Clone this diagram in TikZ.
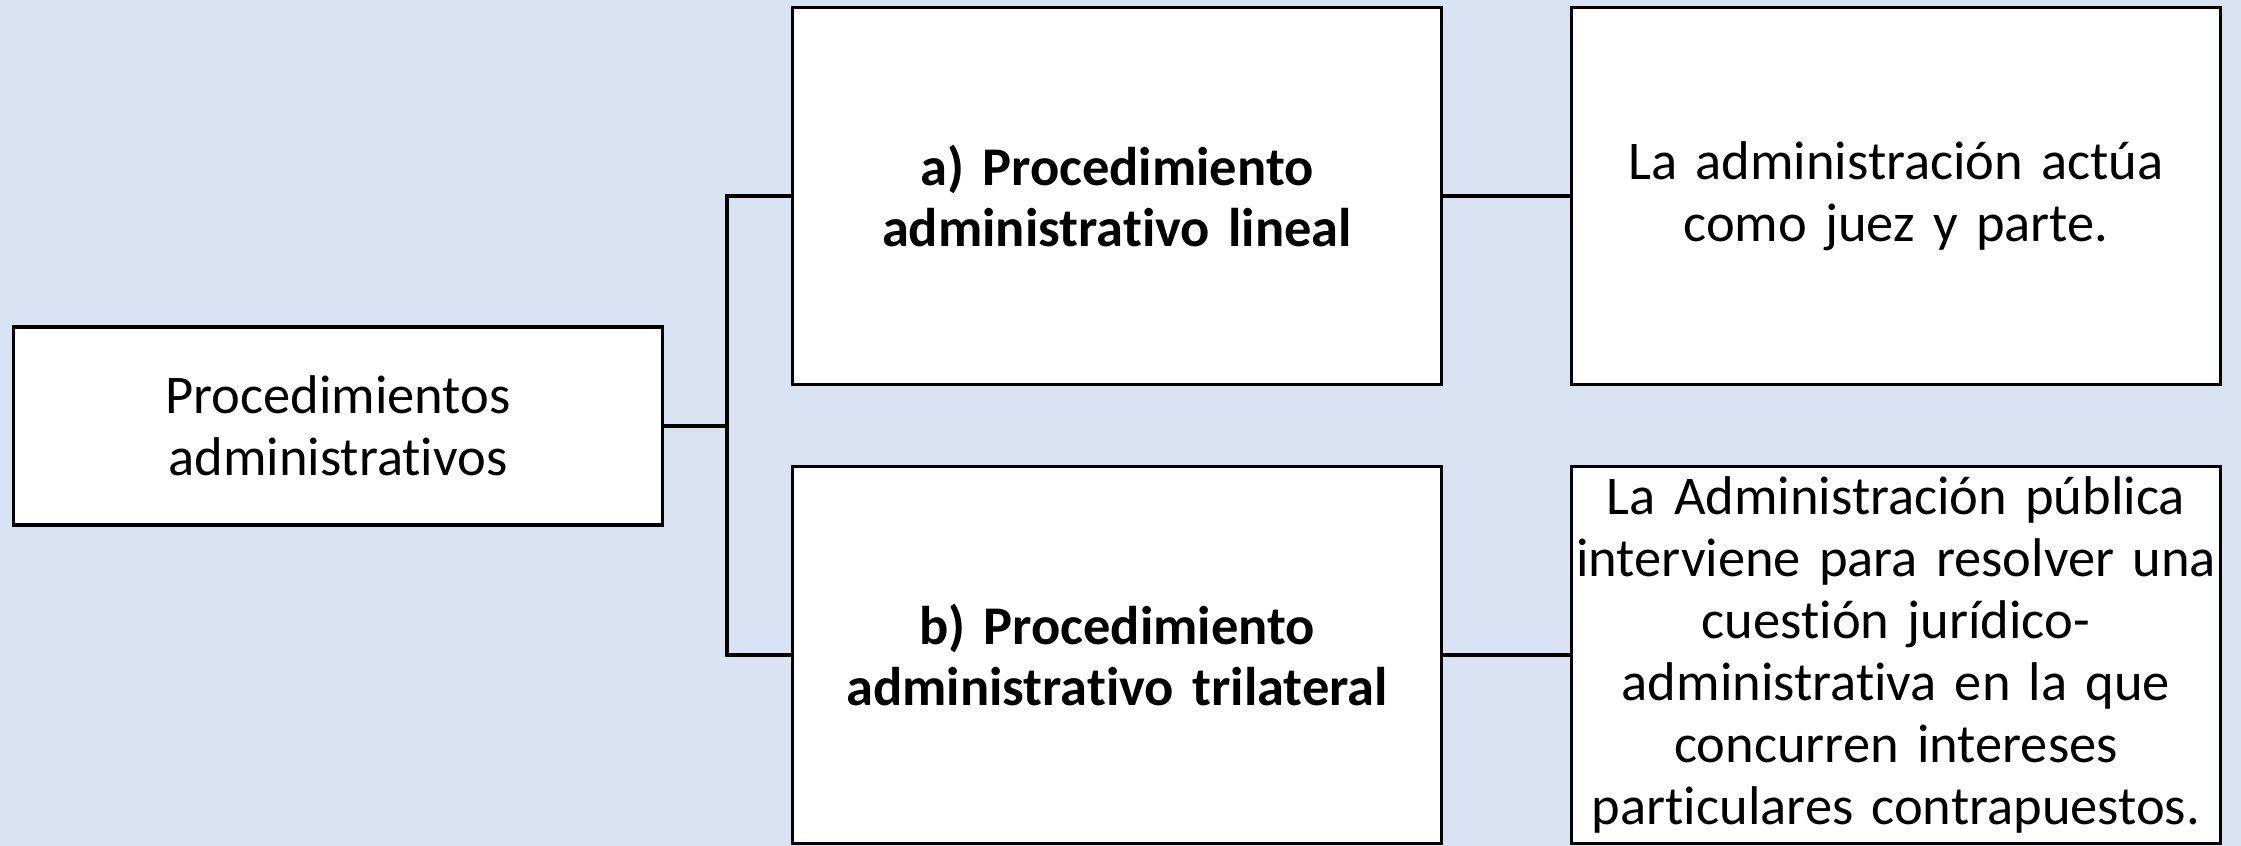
\documentclass[tikz,border=0pt]{standalone}
\usepackage{fontspec}
\setmainfont[Ligatures=NoCommon]{Carlito}
\definecolor{fondo}{HTML}{DAE3F3}
\tikzset{caja/.style={draw,line width=0.9pt,fill=white,align=center,
  inner sep=0pt,text width=6.48cm,minimum width=6.48cm,
  font=\fontsize{15.5}{17.6}\selectfont},
  cajanegra/.style={caja,font=\fontsize{15.5}{17.6}\selectfont\bfseries},
  linea/.style={draw,line width=0.9pt}}
\begin{document}
\begin{tikzpicture}[x=0.01cm,y=-0.01cm]
\path[fill=fondo](0,0)rectangle(2241,846);
\node[caja,minimum height=1.98cm](proc) at (338,426)
{Procedimientos\\administrativos};
\node[cajanegra,minimum height=3.77cm](lineal) at (1117,196)
{a) Procedimiento\\administrativo lineal};
\node[cajanegra,minimum height=3.77cm](trilat) at (1117,655)
{b) Procedimiento\\administrativo trilateral};
\node[caja,minimum height=3.77cm](juez) at (1896,196)
{La administración actúa\\como juez y parte.};
\node[caja,minimum height=3.77cm](cuestion) at (1896,655)
{La Administración pública\\interviene para resolver una\\cuestión jurídico-\\
administrativa en la que\\concurren intereses\\particulares contrapuestos.};
\coordinate(tronco) at (727,426);
\path[linea](proc.east)--(tronco);
\path[linea](lineal.west)-|(tronco)|-(trilat.west);
\path[linea](lineal.east)--(juez.west);
\path[linea](trilat.east)--(cuestion.west);
\end{tikzpicture}
\end{document}
